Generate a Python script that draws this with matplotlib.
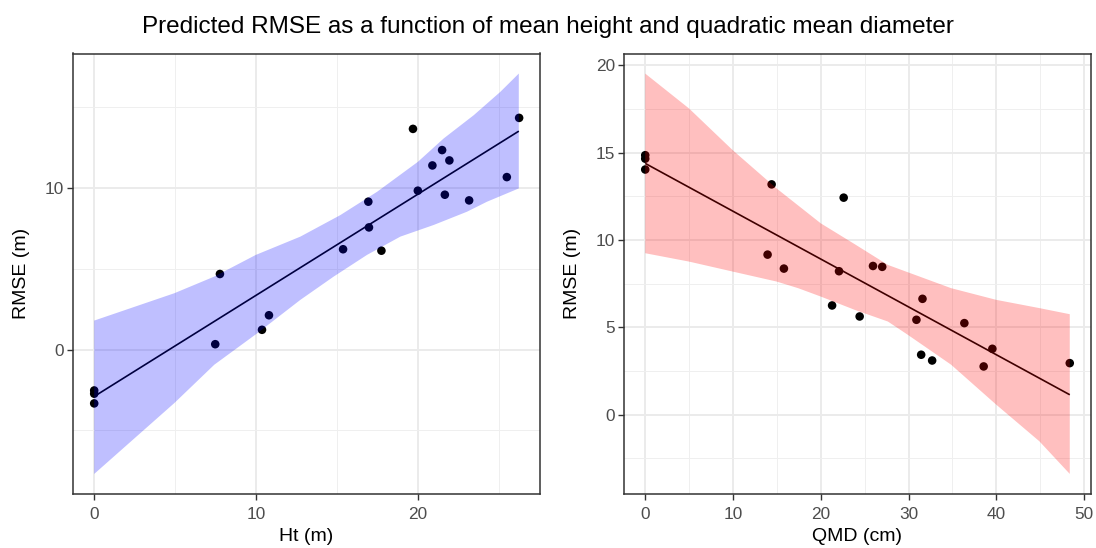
import matplotlib
matplotlib.use("Agg")
import matplotlib.pyplot as plt
from matplotlib.ticker import FixedLocator

plt.rcParams["font.family"] = ["Liberation Sans", "DejaVu Sans"]

# ---- Mean height panel -------------------------------------------------
ht_x = [0, 0, 0, 7.48, 7.77, 10.37, 10.80, 15.38, 16.94, 16.98, 17.75,
        19.70, 20.00, 20.90, 21.50, 21.67, 21.95, 23.17, 25.50, 26.26]
ht_y = [-2.53, -2.73, -3.33, 0.33, 4.67, 1.22, 2.12, 6.20, 9.14, 7.55, 6.11,
        13.64, 9.82, 11.38, 12.33, 9.57, 11.69, 9.22, 10.66, 14.32]

ht_fit_x = [0, 26.24]
ht_fit_y = [-2.90, 13.50]

ht_upper_x = [0, 4.95, 7.42, 9.99, 12.74, 15.21, 17.48, 20.00, 21.60, 23.46, 25.10, 26.24]
ht_upper_y = [1.79, 3.48, 4.51, 5.85, 6.98, 8.31, 9.75, 11.60, 13.05, 14.49, 15.93, 17.06]
ht_lower_x = [0, 4.95, 7.42, 10.00, 12.74, 14.80, 16.86, 18.92, 20.98, 23.04, 24.28, 26.24]
ht_lower_y = [-7.69, -3.31, -0.94, 0.95, 3.07, 4.51, 5.85, 6.98, 7.70, 8.52, 9.14, 9.96]

# ---- Quadratic mean diameter panel --------------------------------------
qmd_x = [0, 0, 0, 14.40, 13.94, 15.80, 21.29, 22.08, 22.61, 24.43, 25.95,
         27.00, 30.90, 31.44, 31.59, 32.69, 36.36, 38.56, 39.55, 48.37]
qmd_y = [14.85, 14.65, 14.03, 13.18, 9.16, 8.36, 6.25, 8.21, 12.42, 5.62, 8.51,
         8.46, 5.43, 3.43, 6.63, 3.10, 5.24, 2.76, 3.77, 2.95]

qmd_fit_x = [0, 48.37]
qmd_fit_y = [14.38, 1.14]

qmd_upper_x = [0, 5.0, 9.96, 14.96, 20.0, 23.86, 27.65, 34.85, 40.0, 44.9, 48.37]
qmd_upper_y = [19.52, 17.52, 15.14, 12.95, 10.95, 9.76, 8.57, 7.24, 6.57, 6.10, 5.75]
qmd_lower_x = [0, 5.0, 9.96, 14.96, 17.42, 20.0, 23.86, 27.65, 29.92, 34.85, 40.0, 44.9, 48.37]
qmd_lower_y = [9.24, 8.76, 8.19, 7.62, 7.24, 6.76, 6.00, 5.33, 4.57, 2.86, 0.57, -1.52, -3.39]

TITLE = "Predicted RMSE as a function of mean height and quadratic mean diameter"

W, H = 1096, 548
fig = plt.figure(figsize=(W / 100, H / 100), dpi=100)
fig.patch.set_facecolor("white")


def box(x0, y0, x1, y1):
    return [x0 / W, 1 - y1 / H, (x1 - x0) / W, (y1 - y0) / H]


def panel(ax, px, py, fx, fy, ux, uy, lx, ly, fill, xlim, ylim,
          xmaj, xmin, ymaj, ymin, xlabel):
    ax.set_facecolor("white")
    ax.scatter(px, py, s=38, color="black", edgecolors="none", zorder=2)
    ax.plot(fx, fy, color="black", lw=1.2, zorder=3, solid_capstyle="butt")
    poly_x = list(ux) + list(lx)[::-1]
    poly_y = list(uy) + list(ly)[::-1]
    ax.fill(poly_x, poly_y, color=fill, alpha=0.25, lw=0, zorder=4)
    ax.set_xlim(*xlim)
    ax.set_ylim(*ylim)
    ax.xaxis.set_major_locator(FixedLocator(xmaj))
    ax.xaxis.set_minor_locator(FixedLocator(xmin))
    ax.yaxis.set_major_locator(FixedLocator(ymaj))
    ax.yaxis.set_minor_locator(FixedLocator(ymin))
    ax.grid(which="major", color="#EBEBEB", lw=1.4, zorder=0)
    ax.grid(which="minor", color="#EFEFEF", lw=0.7, zorder=0)
    ax.set_axisbelow(True)
    for s in ax.spines.values():
        s.set_color("#333333")
        s.set_linewidth(1.1)
        s.set_zorder(6)
    ax.tick_params(which="major", length=4, width=1.0, color="#333333",
                   labelcolor="#4D4D4D", labelsize=12.4)
    ax.tick_params(axis="x", which="major", pad=5.5)
    ax.tick_params(axis="y", which="major", pad=2.5)
    ax.tick_params(which="minor", length=0)
    ax.set_xlabel(xlabel, fontsize=14, color="black", labelpad=4)
    ax.set_ylabel("RMSE (m)", fontsize=14, color="black", labelpad=10.5)


ax1 = fig.add_axes(box(73, 53.5, 540, 494))
panel(ax1, ht_x, ht_y, ht_fit_x, ht_fit_y, ht_upper_x, ht_upper_y,
      ht_lower_x, ht_lower_y, "blue", (-1.31, 27.55), (-8.93, 18.30),
      [0, 10, 20], [5, 15, 25], [0, 10], [-5, 5, 15], "Ht (m)")

ax2 = fig.add_axes(box(624, 53.5, 1091, 494))
panel(ax2, qmd_x, qmd_y, qmd_fit_x, qmd_fit_y, qmd_upper_x, qmd_upper_y,
      qmd_lower_x, qmd_lower_y, "red", (-2.42, 50.79), (-4.54, 20.67),
      [0, 10, 20, 30, 40, 50], [5, 15, 25, 35, 45],
      [0, 5, 10, 15, 20], [-2.5, 2.5, 7.5, 12.5, 17.5], "QMD (cm)")

fig.text(0.5, 1 - 26.5 / H, TITLE, ha="center", va="center", fontsize=17.5, color="black")

fig.savefig("out.png", dpi=100, facecolor="white")
